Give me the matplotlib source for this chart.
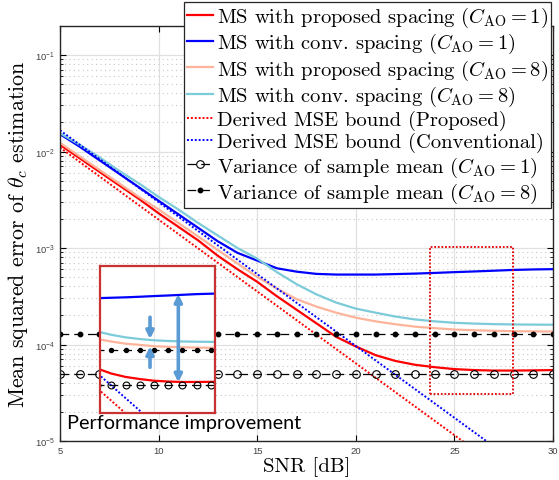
import matplotlib
matplotlib.use('Agg')
import matplotlib.pyplot as plt
import numpy as np

plt.rcParams['mathtext.fontset'] = 'cm'
plt.rcParams['axes.unicode_minus'] = False

# SNR grid [dB]
snr = list(range(5, 31))

# MS with proposed spacing, C_AO = 1 (log10 of MSE)
ms_prop_c1 = [-1.93, -2.07, -2.21, -2.35, -2.49, -2.64, -2.78, -2.92, -3.08, -3.22,
              -3.35, -3.50, -3.64, -3.78, -3.92, -4.02, -4.11, -4.17, -4.21, -4.235,
              -4.255, -4.265, -4.27, -4.27, -4.268, -4.265]
# MS with conv. spacing, C_AO = 1
ms_conv_c1 = [-1.82, -1.95, -2.09, -2.23, -2.37, -2.51, -2.65, -2.79, -2.93, -3.05,
              -3.13, -3.21, -3.245, -3.268, -3.275, -3.275, -3.275, -3.27, -3.265, -3.258,
              -3.25, -3.243, -3.235, -3.227, -3.222, -3.219]
# MS with proposed spacing, C_AO = 8
ms_prop_c8 = [-1.91, -2.05, -2.19, -2.33, -2.47, -2.60, -2.74, -2.88, -3.02, -3.16,
              -3.30, -3.42, -3.53, -3.607, -3.67, -3.722, -3.76, -3.79, -3.815, -3.83,
              -3.845, -3.852, -3.858, -3.862, -3.864, -3.865]
# MS with conv. spacing, C_AO = 8
ms_conv_c8 = [-1.81, -1.93, -2.06, -2.20, -2.33, -2.47, -2.60, -2.74, -2.87, -3.00,
              -3.11, -3.25, -3.375, -3.48, -3.565, -3.628, -3.67, -3.71, -3.74, -3.76,
              -3.775, -3.783, -3.789, -3.792, -3.794, -3.795]

# derived MSE bounds (straight lines on log axis)
bound_snr = [5, 10, 15, 20, 25, 30]
bound_prop = [1.10e-2, 1.97e-3, 3.55e-4, 6.38e-5, 1.15e-5, 2.07e-6]
bound_conv = [1.66e-2, 2.99e-3, 5.37e-4, 9.66e-5, 1.74e-5, 3.13e-6]

# variance of sample mean
var_c1 = [5.0e-5] * len(snr)
var_c8 = [1.3e-4] * len(snr)

labels = [
    r'MS with proposed spacing ($C_{\mathrm{AO}}=1$)',
    r'MS with conv. spacing ($C_{\mathrm{AO}}=1$)',
    r'MS with proposed spacing ($C_{\mathrm{AO}}=8$)',
    r'MS with conv. spacing ($C_{\mathrm{AO}}=8$)',
    'Derived MSE bound (Proposed)',
    'Derived MSE bound (Conventional)',
    r'Variance of sample mean ($C_{\mathrm{AO}}=1$)',
    r'Variance of sample mean ($C_{\mathrm{AO}}=8$)',
]

RED = '#ff0000'
BLUE = '#0000ff'
SALMON = '#fdb49a'
CYAN = '#7ccbd8'
ARROW = '#5b9bd5'


def draw_series(ax, ms=1.0):
    hs = []
    hs += ax.plot(snr, 10 ** np.array(ms_prop_c1), color=RED, lw=1.6)
    hs += ax.plot(snr, 10 ** np.array(ms_conv_c1), color=BLUE, lw=1.6)
    hs += ax.plot(snr, 10 ** np.array(ms_prop_c8), color=SALMON, lw=1.6)
    hs += ax.plot(snr, 10 ** np.array(ms_conv_c8), color=CYAN, lw=1.6)
    hs += ax.plot(bound_snr, bound_prop, color=RED, lw=1.4, ls=(0, (1, 1)))
    hs += ax.plot(bound_snr, bound_conv, color=BLUE, lw=1.4, ls=(0, (1, 1)))
    hs += ax.plot(snr, var_c1, color='k', lw=0.9, ls=(0, (7, 4)), marker='o',
                  ms=5.5 * ms, mfc='none', mec='k', mew=0.8)
    hs += ax.plot(snr, var_c8, color='k', lw=0.9, ls=(0, (7, 4)), marker='o',
                  ms=3.2 * ms, mfc='k', mec='k')
    return hs


fig = plt.figure(figsize=(5.59, 4.81), dpi=100)
ax = fig.add_axes([60 / 559, 1 - 442 / 481, 493 / 559, 415 / 481])
ax.set_yscale('log')
handles = draw_series(ax)
ax.set_xlim(5, 30)
ax.set_ylim(1e-5, 0.2)
ax.set_xticks([5, 10, 15, 20, 25, 30])

ax.grid(True, which='major', color='#e0e0e0', lw=0.9)
ax.grid(True, which='minor', axis='y', color='#c8c8c8', lw=0.8, ls=(0, (1, 3)))
ax.set_axisbelow(True)
ax.tick_params(which='both', direction='in', top=True, right=True,
               labelsize=6.8, labelcolor='#404040', labelfontfamily='Liberation Sans')
ax.tick_params(which='major', length=4)
ax.tick_params(which='minor', length=2.5)
for s in ax.spines.values():
    s.set_color('#262626')
    s.set_linewidth(1.0)

ax.set_xlabel('SNR [dB]', fontsize=15, family='cmr10', labelpad=1)
ax.set_ylabel(r'Mean squared error of $\theta_c$ estimation', fontsize=15.8,
              family='cmr10', labelpad=4)

# dotted zoom window
ax.plot([23.75, 27.95, 27.95, 23.75, 23.75],
        [3.05e-5, 3.05e-5, 1.02e-3, 1.02e-3, 3.05e-5],
        color='#e00000', lw=1.3, ls=(0, (1, 1)))

ax.text(0.015, 0.045, 'Performance improvement', transform=ax.transAxes,
        fontsize=14.3, family='Lato', va='center', ha='left')

# inset
axin = fig.add_axes([100 / 559, 1 - 414 / 481, 115 / 559, 147.3 / 481])
axin.set_yscale('log')
draw_series(axin, ms=0.9)
axin.set_xlim(21.2, 29.3)
axin.set_ylim(2.3e-5, 1.29e-3)
axin.set_xticks([25])
axin.set_yticks([1e-4])
axin.grid(True, which='major', color='#e6e6e6', lw=0.8)
axin.set_axisbelow(True)
axin.tick_params(which='both', length=0, labelbottom=False, labelleft=False)
axin.yaxis.set_minor_locator(matplotlib.ticker.NullLocator())
for s in axin.spines.values():
    s.set_color('#c83232')
    s.set_linewidth(1.6)

arrow_kw = dict(color=ARROW, lw=2.6, shrinkA=0, shrinkB=0, mutation_scale=11)
axin.annotate('', xy=(0.681, 0.208), xytext=(0.681, 0.808), xycoords='axes fraction',
              arrowprops=dict(arrowstyle='<|-|>', **arrow_kw))
axin.annotate('', xy=(0.435, 0.502), xytext=(0.435, 0.65), xycoords='axes fraction',
              arrowprops=dict(arrowstyle='-|>', **arrow_kw))
axin.annotate('', xy=(0.435, 0.453), xytext=(0.435, 0.31), xycoords='axes fraction',
              arrowprops=dict(arrowstyle='-|>', **arrow_kw))

leg = fig.legend(handles, labels, loc='upper right',
                 bbox_to_anchor=(551 / 559, 1 - 3 / 481), bbox_transform=fig.transFigure,
                 prop={'family': 'cmr10', 'size': 14.8}, fancybox=False, framealpha=1,
                 edgecolor='#262626', borderaxespad=0, borderpad=0.15,
                 handlelength=1.25, handletextpad=0.2, labelspacing=0.1)
leg.get_frame().set_linewidth(0.9)

fig.savefig('out.png', dpi=100)
